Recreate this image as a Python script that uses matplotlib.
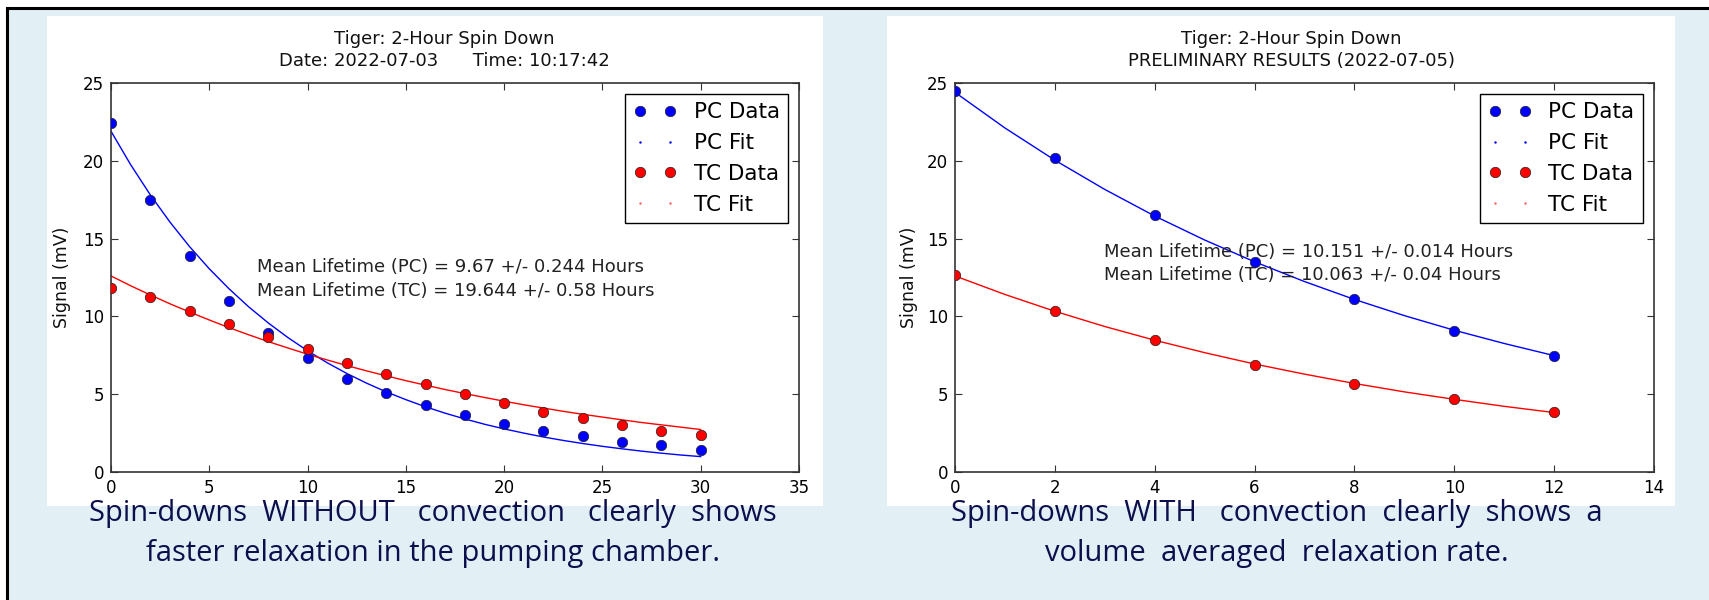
import numpy as np
import matplotlib
matplotlib.use('Agg')
import matplotlib.pyplot as plt
from matplotlib.patches import Rectangle
from matplotlib.lines import Line2D

W, H = 1709, 600

# ---- data ---------------------------------------------------------------
# left: spin-down without convection (2022-07-03)
t_left = [0, 2, 4, 6, 8, 10, 12, 14, 16, 18, 20, 22, 24, 26, 28, 30]
pc_left = [22.4, 17.5, 13.85, 11.0, 8.95, 7.3, 6.0, 5.1, 4.3, 3.65, 3.08,
           2.65, 2.3, 1.93, 1.74, 1.41]
tc_left = [11.8, 11.25, 10.35, 9.5, 8.7, 7.9, 7.0, 6.3, 5.65, 5.03, 4.45,
           3.88, 3.45, 3.02, 2.66, 2.36]

t_left_fit = list(range(0, 31))
pc_left_fit = [21.90, 19.75, 17.81, 16.06, 14.48, 13.06, 11.78, 10.62, 9.58,
               8.64, 7.79, 7.02, 6.33, 5.71, 5.15, 4.65, 4.19, 3.78, 3.41,
               3.07, 2.77, 2.50, 2.25, 2.03, 1.83, 1.65, 1.49, 1.34, 1.21,
               1.09, 0.99]
tc_left_fit = [12.60, 11.97, 11.38, 10.81, 10.28, 9.77, 9.28, 8.82, 8.38,
               7.97, 7.57, 7.20, 6.84, 6.50, 6.18, 5.87, 5.58, 5.30, 5.04,
               4.79, 4.55, 4.32, 4.11, 3.90, 3.71, 3.53, 3.35, 3.18, 3.03,
               2.88, 2.73]

# right: spin-down with convection (2022-07-05)
t_right = [0, 2, 4, 6, 8, 10, 12]
pc_right = [24.5, 20.15, 16.5, 13.5, 11.1, 9.08, 7.45]
tc_right = [12.65, 10.33, 8.46, 6.88, 5.65, 4.66, 3.84]

t_right_fit = list(range(0, 13))
pc_right_fit = [24.40, 22.11, 20.04, 18.16, 16.45, 14.91, 13.51, 12.24,
                11.09, 10.05, 9.11, 8.26, 7.48]
tc_right_fit = [12.60, 11.41, 10.33, 9.35, 8.47, 7.67, 6.94, 6.29, 5.69,
                5.15, 4.67, 4.22, 3.82]

left_title = 'Tiger: 2-Hour Spin Down\nDate: 2022-07-03      Time: 10:17:42'
right_title = 'Tiger: 2-Hour Spin Down\nPRELIMINARY RESULTS (2022-07-05)'
left_notes = ['Mean Lifetime (PC) = 9.67 +/- 0.244 Hours',
              'Mean Lifetime (TC) = 19.644 +/- 0.58 Hours']
right_notes = ['Mean Lifetime (PC) = 10.151 +/- 0.014 Hours',
               'Mean Lifetime (TC) = 10.063 +/- 0.04 Hours']
left_caption = ['Spin-downs  WITHOUT   convection   clearly  shows',
                'faster relaxation in the pumping chamber.']
right_caption = ['Spin-downs  WITH   convection  clearly  shows  a',
                 'volume  averaged  relaxation rate.']

BG = '#e2eff5'
NAVY = '#0d0f4d'


def px_rect(x0, y0, x1, y1):
    # pixel box (top-left origin) -> figure fraction rect
    return [x0 / W, 1 - y1 / H, (x1 - x0) / W, (y1 - y0) / H]


fig = plt.figure(figsize=(W / 100, H / 100), dpi=100, facecolor='white')

# slide background with black frame (right/bottom edges run off the page)
fig.patches.append(Rectangle((7 / W, -0.1), 1.2, 1 - 8 / H + 0.1,
                             transform=fig.transFigure, facecolor=BG,
                             edgecolor='black', linewidth=2.2, zorder=-10))
for x0, x1 in [(47, 823), (887, 1675)]:
    r = px_rect(x0, 16, x1, 506)
    fig.patches.append(Rectangle((r[0], r[1]), r[2], r[3],
                                 transform=fig.transFigure, facecolor='white',
                                 edgecolor='none', zorder=-5))


def draw_panel(rect, t, pc, tc, tf, pcf, tcf, xmax, xstep, title, title_x,
               notes, note_x, note_y, ylabel_x):
    ax = fig.add_axes(rect)
    ax.plot(tf, pcf, color='#0000ff', lw=1.0, zorder=2)
    ax.plot(tf, tcf, color='#ff0000', lw=1.0, zorder=2)
    ax.plot(t, pc, 'o', color='#0000ff', mec='#202020', mew=0.5, ms=7.5,
            zorder=3)
    ax.plot(t, tc, 'o', color='#ff0000', mec='#202020', mew=0.5, ms=7.5,
            zorder=3)
    ax.set_xlim(0, xmax)
    ax.set_ylim(0, 25)
    ax.set_xticks(np.arange(0, xmax + 0.1, xstep))
    ax.set_yticks([0, 5, 10, 15, 20, 25])
    ax.tick_params(direction='in', top=True, right=True, length=5,
                   width=0.8, color='#333333', labelsize=12, pad=5)
    for s in ax.spines.values():
        s.set_color('#333333')
        s.set_linewidth(1.2)

    handles = [
        Line2D([], [], ls='none', marker='o', color='#0000ff', mec='#202020',
               mew=0.5, ms=7.5),
        Line2D([], [], ls='none', marker='.', color='#0000ff', ms=1.5),
        Line2D([], [], ls='none', marker='o', color='#ff0000', mec='#202020',
               mew=0.5, ms=7.5),
        Line2D([], [], ls='none', marker='.', color='#ff6060', ms=1.5),
    ]
    leg = ax.legend(handles, ['PC Data', 'PC Fit', 'TC Data', 'TC Fit'],
                    loc='upper right', numpoints=2, fontsize=15.5,
                    fancybox=False, framealpha=1, edgecolor='black',
                    borderaxespad=0.5, labelspacing=0.5)
    leg.get_frame().set_linewidth(1.0)

    for note, y in zip(notes, note_y):
        ax.text(note_x, y, note, fontsize=13, color='#222222',
                ha='left', va='center', zorder=4)

    fig.text(title_x / W, 1 - 50 / H, title, ha='center', va='center',
             fontsize=13, linespacing=1.25, color='#111111')
    fig.text(ylabel_x / W, 1 - 277 / H, 'Signal (mV)', rotation=90,
             ha='center', va='center', fontsize=12.5, color='#111111')
    return ax


draw_panel(px_rect(111, 83, 799, 472), t_left, pc_left, tc_left,
           t_left_fit, pc_left_fit, tc_left_fit, 35, 5, left_title, 444,
           left_notes, 7.45, [13.17, 11.63], 62)
draw_panel(px_rect(955, 83, 1654, 472), t_right, pc_right, tc_right,
           t_right_fit, pc_right_fit, tc_right_fit, 14, 2, right_title, 1291,
           right_notes, 2.98, [14.14, 12.66], 909)

for cx, lines in [(433, left_caption), (1277, right_caption)]:
    for y, line in zip([513, 553], lines):
        fig.text(cx / W, 1 - y / H, line, ha='center', va='center',
                 fontsize=21, color=NAVY, family='Open Sans')

fig.savefig('out.png', dpi=100, facecolor=fig.get_facecolor())
